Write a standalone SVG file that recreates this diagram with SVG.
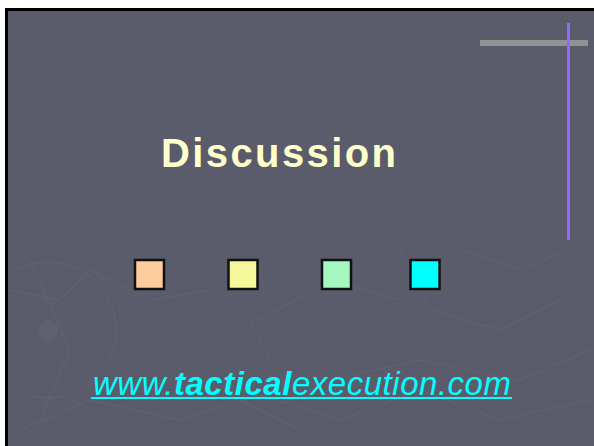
<svg xmlns="http://www.w3.org/2000/svg" width="594" height="446" viewBox="0 0 594 446">
  <style>
    .tex { fill: none; stroke: #68697a; stroke-width: 1; opacity: 0.55; }
    .sq { stroke: #111111; stroke-width: 2.5; }
    .title { font-family: "Liberation Sans", Arial, sans-serif; font-weight: bold; font-size: 40px; fill: #ffffcc; }
    .url { font-family: "Liberation Sans", Arial, sans-serif; font-style: italic; font-size: 33px; fill: #00ffff; }
  </style>
  <defs>
    <clipPath id="slide">
      <rect x="8" y="11" width="586" height="435"/>
    </clipPath>
  </defs>
  <rect x="0" y="0" width="594" height="446" fill="#ffffff"/>
  <rect x="5" y="8" width="589" height="438" fill="#000000"/>
  <rect x="8" y="11" width="586" height="435" fill="#5a5b6b"/>

  <g id="background-texture" clip-path="url(#slide)">
    <circle cx="48" cy="330" r="76" class="tex" stroke-dasharray="1 2"/>
    <circle cx="48" cy="330" r="68" class="tex"/>
    <circle cx="48" cy="330" r="10" fill="#606172" opacity="0.8"/>
    <polyline class="tex" points="10,290 60,300 90,270 150,300 210,290 260,320 330,280 400,300 460,250 520,270 590,240"/>
    <polyline class="tex" points="20,430 90,400 180,420 260,395 340,420 420,390 500,420 590,400"/>
    <polyline class="tex" points="30,260 70,350 40,420"/>
    <polyline class="tex" points="250,320 270,360 240,400 300,430"/>
    <polyline class="tex" points="400,250 430,310 500,330 560,300"/>
    <polyline class="tex" points="330,380 420,360 520,380 590,350"/>
  </g>

  <g id="decor">
    <rect x="480" y="40" width="108" height="6" fill="#929292"/>
    <rect x="567" y="23" width="3" height="217" fill="#9966ff"/>
  </g>

  <g id="title">
    <text class="title" x="161" y="167" textLength="235" lengthAdjust="spacing">Discussion</text>
  </g>

  <g id="squares">
    <rect id="sq1" class="sq" x="135" y="260" width="29" height="29" fill="#fecb9c"/>
    <rect id="sq2" class="sq" x="228.5" y="260" width="29" height="29" fill="#f5f79b"/>
    <rect id="sq3" class="sq" x="322" y="260" width="29" height="29" fill="#a4f8c0"/>
    <rect id="sq4" class="sq" x="410.5" y="260" width="29" height="29" fill="#00ffff"/>
  </g>

  <g id="url">
    <text class="url" x="93" y="395" textLength="418" lengthAdjust="spacing">www.<tspan font-weight="bold">tactical</tspan>execution.com</text>
    <rect x="91" y="397" width="421" height="2" fill="#00ffff"/>
  </g>

  <g id="connectors"></g>
</svg>
